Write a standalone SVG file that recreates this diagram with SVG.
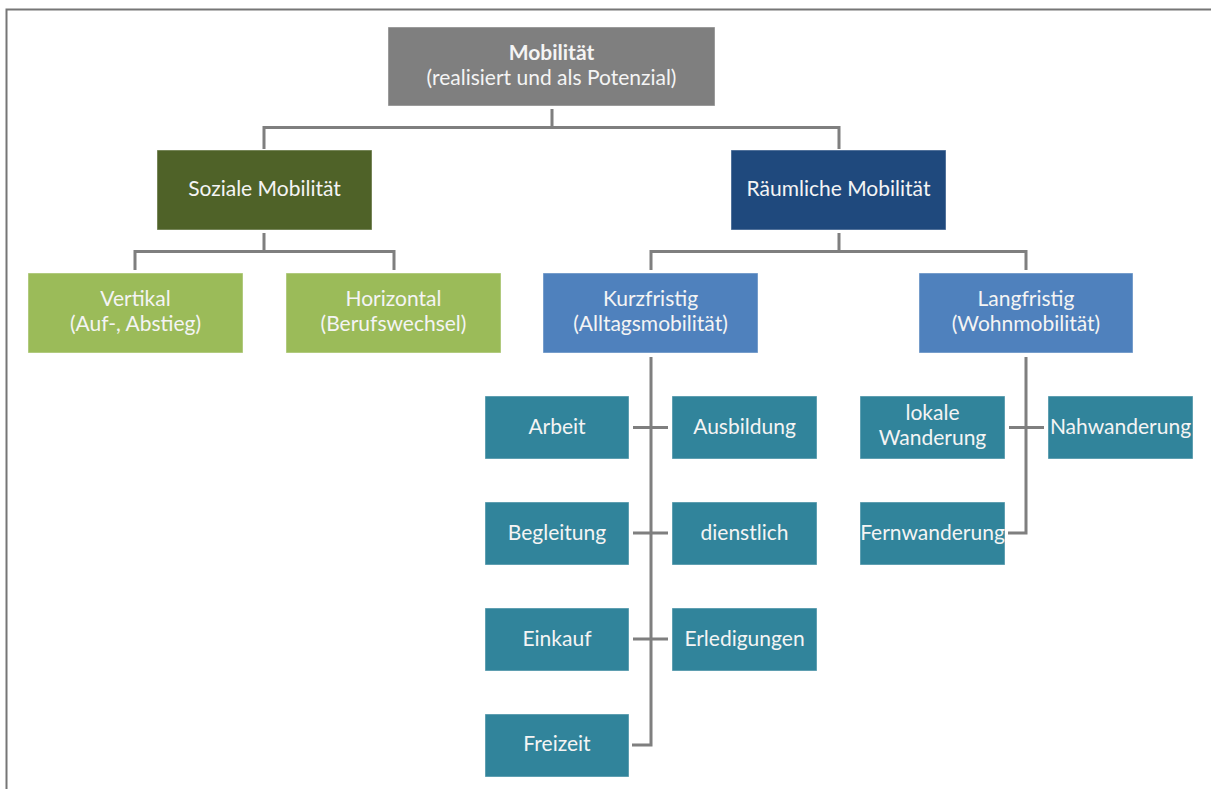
<svg xmlns="http://www.w3.org/2000/svg" width="1211" height="789" viewBox="0 0 1211 789">
<style>
.box{stroke:#ffffff;stroke-opacity:0.45;stroke-width:1}
.t{font-family:Lato,"Open Sans","Liberation Sans",sans-serif;font-size:21px;fill:#f4f4f4;text-anchor:middle}
.b{font-weight:bold}
.c{fill:none;stroke:#7f7f7f;stroke-width:3}
.gray{fill:#7f7f7f}.olive{fill:#4f6228}.navy{fill:#1f497d}.green{fill:#9bbb59}.blue{fill:#4f81bd}.teal{fill:#31849b}
</style>
<rect width="1211" height="789" fill="#ffffff"/>
<path d="M6.5 789 V9.5 H1211" fill="none" stroke="#767676" stroke-width="2"/>
<g id="connectors">
<path class="c" d="M552 109 V127.5 M264 149 V127.5 H839 V149"/>
<path class="c" d="M264 233 V251.5 M135 270 V251.5 H394 V270"/>
<path class="c" d="M839 233 V251.5 M651 270 V251.5 H1026 V270"/>
<path class="c" d="M651 357 V745 H632"/>
<path class="c" d="M633 427.5 H668 M633 533 H668 M633 639 H668"/>
<path class="c" d="M1026 357 V533 H1008"/>
<path class="c" d="M1009 427.5 H1044"/>
</g>
<g id="mobilitaet"><rect class="box gray" x="388" y="27" width="327" height="79"/><text class="t b" x="551.5" y="60">Mobilität</text><text class="t" x="551.5" y="85">(realisiert und als Potenzial)</text></g>
<g id="soziale"><rect class="box olive" x="157" y="150" width="215" height="80"/><text class="t" x="264.5" y="196">Soziale Mobilität</text></g>
<g id="raeumliche"><rect class="box navy" x="731" y="150" width="215" height="80"/><text class="t" x="838.5" y="196">Räumliche Mobilität</text></g>
<g id="vertikal"><rect class="box green" x="28" y="273" width="215" height="80"/><text class="t" x="135.5" y="306">Vertikal</text><text class="t" x="135.5" y="331">(Auf-, Abstieg)</text></g>
<g id="horizontal"><rect class="box green" x="286" y="273" width="215" height="80"/><text class="t" x="393.5" y="306">Horizontal</text><text class="t" x="393.5" y="331">(Berufswechsel)</text></g>
<g id="kurzfristig"><rect class="box blue" x="543" y="273" width="215" height="80"/><text class="t" x="650.5" y="306">Kurzfristig</text><text class="t" x="650.5" y="331">(Alltagsmobilität)</text></g>
<g id="langfristig"><rect class="box blue" x="919" y="273" width="214" height="80"/><text class="t" x="1026" y="306">Langfristig</text><text class="t" x="1026" y="331">(Wohnmobilität)</text></g>
<g id="arbeit"><rect class="box teal" x="485" y="396" width="144" height="63"/><text class="t" x="557" y="434">Arbeit</text></g>
<g id="ausbildung"><rect class="box teal" x="672" y="396" width="145" height="63"/><text class="t" x="744.5" y="434">Ausbildung</text></g>
<g id="begleitung"><rect class="box teal" x="485" y="502" width="144" height="63"/><text class="t" x="557" y="540">Begleitung</text></g>
<g id="dienstlich"><rect class="box teal" x="672" y="502" width="145" height="63"/><text class="t" x="744.5" y="540">dienstlich</text></g>
<g id="einkauf"><rect class="box teal" x="485" y="608" width="144" height="63"/><text class="t" x="557" y="646">Einkauf</text></g>
<g id="erledigungen"><rect class="box teal" x="672" y="608" width="145" height="63"/><text class="t" x="744.5" y="646">Erledigungen</text></g>
<g id="freizeit"><rect class="box teal" x="485" y="714" width="144" height="63"/><text class="t" x="557" y="751">Freizeit</text></g>
<g id="lokale"><rect class="box teal" x="860" y="396" width="145" height="63"/><text class="t" x="932.5" y="420">lokale</text><text class="t" x="932.5" y="445">Wanderung</text></g>
<g id="nahwanderung"><rect class="box teal" x="1048" y="396" width="145" height="63"/><text class="t" x="1120.5" y="434">Nahwanderung</text></g>
<g id="fernwanderung"><rect class="box teal" x="860" y="502" width="145" height="63"/><text class="t" x="932.5" y="540">Fernwanderung</text></g>
</svg>
